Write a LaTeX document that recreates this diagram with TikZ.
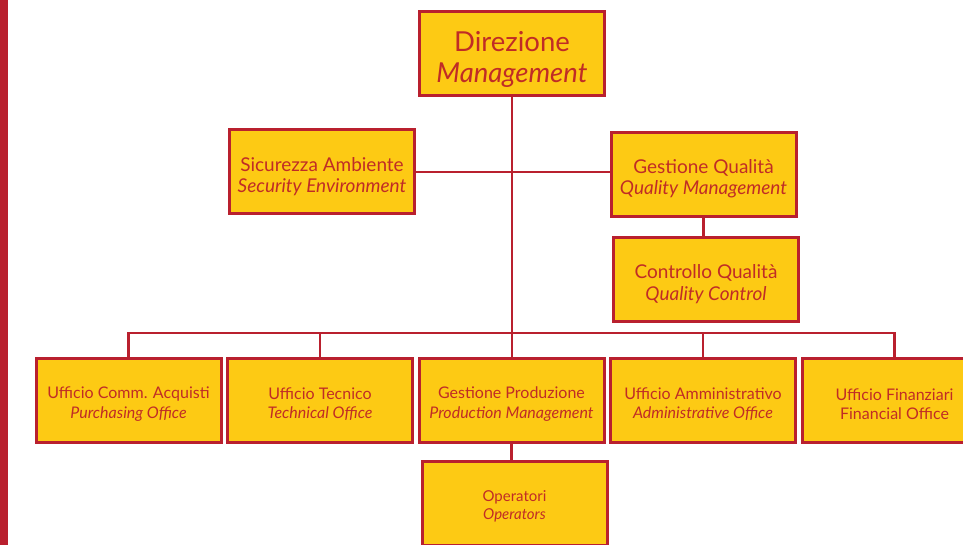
\documentclass[tikz,border=0pt]{standalone}
\usepackage{fontspec}
\setmainfont{Lato}
\usepackage{tikz}
\usetikzlibrary{positioning}
\definecolor{boxred}{RGB}{185,32,46}
\definecolor{textred}{RGB}{192,44,38}
\definecolor{boxyellow}{RGB}{253,202,20}
\newcommand{\pad}{\rule{0pt}{1.2em}}
\tikzstyle{unit} = [rectangle, minimum width=185pt, minimum height=84pt, text centered, align=center, draw=boxred, line width=3pt, fill=boxyellow, text=textred, inner sep=0pt]
\tikzstyle{top} = [unit, font=\fontsize{27.5}{31}\selectfont]
\tikzstyle{mid} = [unit, font=\fontsize{19}{21.5}\selectfont]
\tikzstyle{low} = [unit, font=\fontsize{16}{19.5}\selectfont]
\tikzstyle{link} = [line width=2.5pt, draw=boxred]

\begin{document}
\begin{tikzpicture}[x=1pt, y=-1pt]
        \useasboundingbox (0,0) rectangle (963,545);
        \clip (0,0) rectangle (963,545);
        \fill [boxred] (0,0) rectangle (8,545);
        \node (dir) [top] at (512,53.5) {\pad Direzione\\\itshape Management};
        \node (sic) [mid] at (322,172) {\pad Sicurezza Ambiente\\\itshape Security Environment};
        \node (gq) [mid] at (703.5,174.5) {\pad Gestione Qualità\\\itshape Quality Management};
        \node (cq) [mid] at (706,279.5) {\pad Controllo Qualità\\\itshape Quality Control};
        \node (acq) [low] at (128.5,400.5) {\pad Ufficio Comm. Acquisti\\\itshape Purchasing Office};
        \node (tec) [low, right=3.5pt of acq] {\pad Ufficio Tecnico\\\itshape Technical Office};
        \node (prod) [low, right=3.5pt of tec] {\pad Gestione Produzione\\\itshape Production Management};
        \node (amm) [low, right=3.5pt of prod] {\pad Ufficio Amministrativo\\\itshape Administrative Office};
        \node (fin) [low, right=3.5pt of amm] {\pad Ufficio Finanziari\\Financial Office};
        \node (op) [low, font=\fontsize{15}{18.5}\selectfont] at (514.5,503) {\pad Operatori\\\itshape Operators};
        \coordinate (bus) at (512,333);
        \draw [link] (dir.south) -- (dir.south |- prod.north);
        \draw [link] (sic.east) -- (sic.east -| gq.west);
        \draw [link] (gq.south) -- (gq.south |- cq.north);
        \draw [link] (acq.north) |- (bus) -| (fin.north);
        \draw [link] (tec.north) -- (tec.north |- bus);
        \draw [link] (amm.north) -- (amm.north |- bus);
        \draw [link] (prod.south) -- (prod.south |- op.north);
    \end{tikzpicture}
\end{document}
